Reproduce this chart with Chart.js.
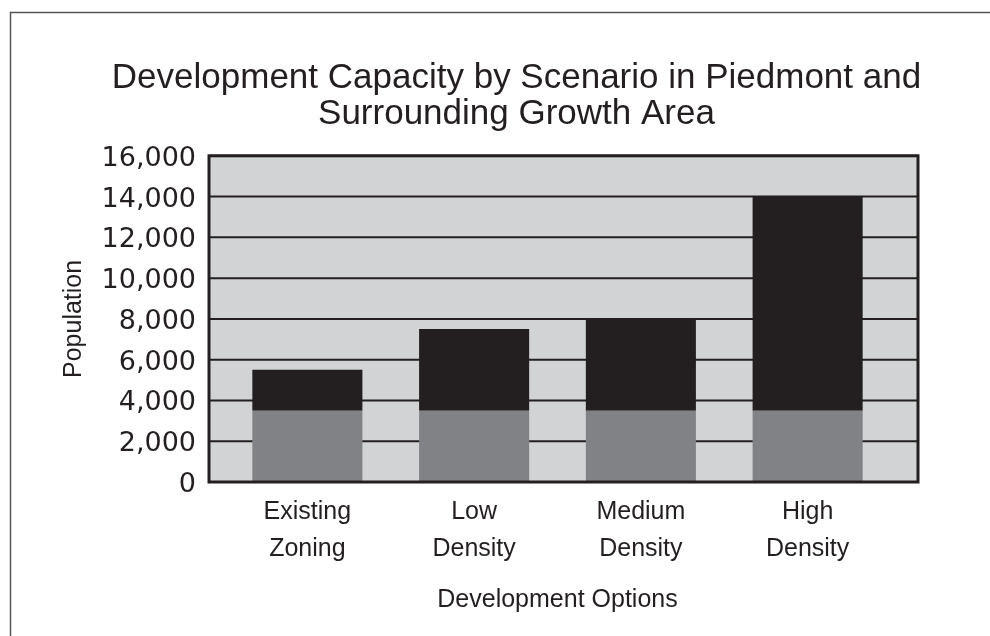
<!doctype html>
<html lang="en">
<head>
  <meta charset="utf-8">
  <title>Development Capacity by Scenario</title>
  <script src="https://cdn.jsdelivr.net/npm/chart.js@4.4.1/dist/chart.umd.min.js"></script>
  <style>
    html, body { margin: 0; padding: 0; background: #fff; }
    #wrap { width: 990px; height: 636px; }
  </style>
</head>
<body>
  <div id="wrap"><canvas id="chart" width="990" height="636"></canvas></div>
  <script>
    // data
    const categories = [['Existing', 'Zoning'], ['Low', 'Density'], ['Medium', 'Density'], ['High', 'Density']];
    const baseValues = [3500, 3500, 3500, 3500];
    const addedValues = [2000, 4000, 4500, 10500];
    const yMin = 0, yMax = 16000, yStep = 2000;

    const ink = '#231f20';
    const plotGray = '#d1d3d4';

    // gray panel, grid lines and frame drawn a bit wider than the bar area
    const plotFrame = {
      id: 'plotFrame',
      beforeDraw(chart) {
        const ctx = chart.ctx;
        ctx.save();
        ctx.strokeStyle = '#555';
        ctx.lineWidth = 1.5;
        ctx.strokeRect(10.5, 12.5, 1100, 800);
        ctx.restore();
      },
      beforeDatasetsDraw(chart) {
        const { ctx, chartArea } = chart;
        const y = chart.scales.y;
        const left = chartArea.left - 15, right = chartArea.right + 27;
        ctx.save();
        ctx.fillStyle = plotGray;
        ctx.fillRect(left, chartArea.top, right - left, chartArea.bottom - chartArea.top);
        ctx.strokeStyle = ink;
        ctx.lineWidth = 2;
        y.ticks.forEach(t => {
          const py = y.getPixelForValue(t.value);
          ctx.beginPath();
          ctx.moveTo(left, py);
          ctx.lineTo(right, py);
          ctx.stroke();
        });
        ctx.restore();
      },
      afterDatasetsDraw(chart) {
        const { ctx, chartArea } = chart;
        const left = chartArea.left - 15, right = chartArea.right + 27;
        ctx.save();
        ctx.strokeStyle = ink;
        ctx.lineWidth = 3;
        ctx.strokeRect(left, chartArea.top, right - left, chartArea.bottom - chartArea.top);
        ctx.restore();
      }
    };

    new Chart(document.getElementById('chart'), {
      type: 'bar',
      data: {
        labels: categories,
        datasets: [
          { label: 'Existing', data: baseValues, backgroundColor: '#808285' },
          { label: 'Added', data: addedValues, backgroundColor: ink }
        ]
      },
      options: {
        responsive: false,
        animation: false,
        layout: { padding: { left: 43, right: 0, top: 0, bottom: 0 } },
        datasets: { bar: { categoryPercentage: 1, barPercentage: 0.66 } },
        plugins: {
          legend: { display: false },
          tooltip: { enabled: false },
          title: {
            display: true,
            text: ['Development Capacity by Scenario in Piedmont and', 'Surrounding Growth Area'],
            color: ink,
            font: { family: 'Liberation Sans', size: 35, weight: 'normal', lineHeight: 1.04 },
            padding: { top: 60, bottom: 23 }
          }
        },
        scales: {
          x: {
            stacked: true,
            grid: { display: false, drawTicks: false },
            border: { display: false },
            ticks: {
              color: ink,
              padding: 12,
              font: { family: 'Liberation Sans', size: 25, lineHeight: 1.48 }
            },
            title: {
              display: true,
              text: 'Development Options',
              color: ink,
              font: { family: 'Liberation Sans', size: 25 },
              padding: { top: 0, bottom: 21 }
            },
            afterFit(scale) { scale.height = 154; }
          },
          y: {
            stacked: true,
            min: yMin,
            max: yMax,
            grid: { display: false, drawTicks: false },
            border: { display: false },
            ticks: {
              stepSize: yStep,
              color: ink,
              padding: 28,
              labelOffset: 3,
              font: { family: 'DejaVu Sans', size: 27 },
              callback: v => v.toLocaleString('en-US')
            },
            title: {
              display: true,
              text: 'Population',
              color: ink,
              font: { family: 'Liberation Sans', size: 25 },
              padding: { top: 16, bottom: 0 }
            },
            afterFit(scale) { scale.width = 181; }
          },
          y2: {
            position: 'right',
            grid: { display: false, drawTicks: false },
            border: { display: false },
            ticks: { display: false },
            afterFit(scale) { scale.width = 99; }
          }
        }
      },
      plugins: [plotFrame]
    });
  </script>
</body>
</html>
